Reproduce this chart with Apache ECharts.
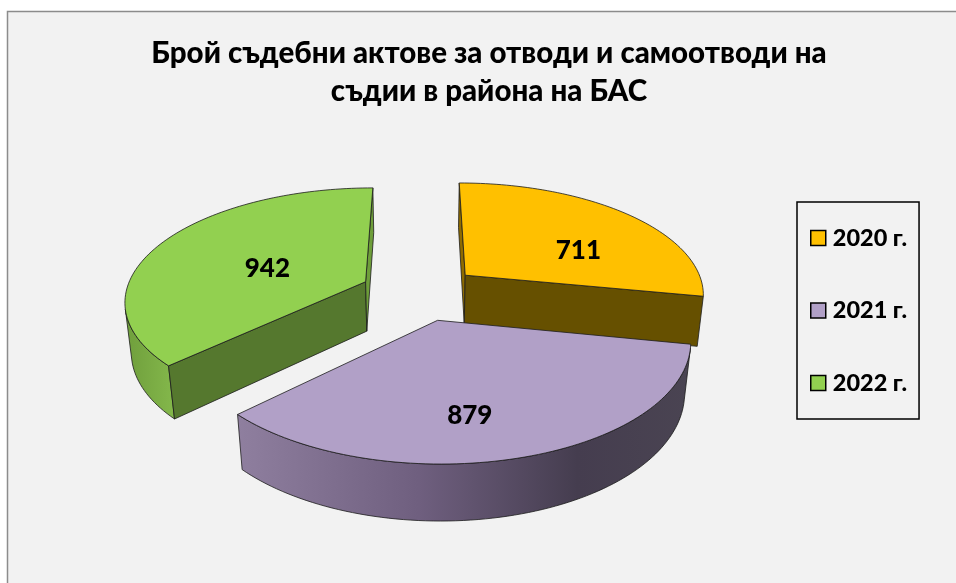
<!DOCTYPE html>
<html>
<head>
<meta charset="utf-8">
<style>
  html, body { margin: 0; padding: 0; background: #fff; }
  #chart { width: 956px; height: 583px; }
</style>
<script src="https://cdn.jsdelivr.net/npm/echarts@6/dist/echarts.min.js"></script>
</head>
<body>
<div id="chart"></div>
<script>
const titleLines = ['Брой съдебни актове за отводи и самоотводи на', 'съдии в района на БАС']
const years = ['2020 г.', '2021 г.', '2022 г.']
const values = [711, 879, 942]

const fontName = 'Lato, "Noto Sans", sans-serif'
const topColors = ['#FFC000', '#B1A0C7', '#92D050']
const startCutColors = ['#8F6C00', '#6A6077', '#55782E']
const endCutColors = ['#665000', '#6A6077', '#6E9E3A']
const wallStops = [
  [[0, '#A88000'], [1, '#8F6C00']],
  [[0, '#8F7F9F'], [0.4, '#6F5F7F'], [0.75, '#453D4F'], [1, '#4A4452']],
  [[0, '#6F9E3C'], [1, '#84B84B']]
]
// where each number sits on its slice: plan angle in degrees, fraction of the radius
const labelSpots = [[65, 0.56], [171.4, 0.71], [286, 0.445]]

// 3d view of the pie
const view = { cx: 420, cy: 292.5, rx: 240, ry: 111.6, depth: 51, persp: 0.156, perspZ: 0.022, explode: 0.25, rotation: 0 }

const total = values.reduce((a, b) => a + b, 0)

const project = (x, y, z) => {
  const w = 1 + view.persp * y + view.perspZ * z
  return [view.cx + view.rx * x / w, view.cy + (-view.ry * y + view.depth * z) / w]
}

const isFacing = (pts) => {
  let sum = 0
  pts.forEach((p, i) => {
    const q = pts[(i + 1) % pts.length]
    sum += p[0] * q[1] - q[0] * p[1]
  })
  return sum > 0
}

const outline = { stroke: '#1c1c1c', lineWidth: 0.8, lineJoin: 'round' }
const poly = (points, fill) => ({ type: 'polygon', shape: { points }, style: { fill, ...outline } })

const renderSlice = (index) => {
  let before = 0
  for (let i = 0; i < index; i++) before += values[i]
  const rad = (d) => d * Math.PI / 180
  const a0 = view.rotation + before / total * 360
  const a1 = a0 + values[index] / total * 360
  const mid = (a0 + a1) / 2
  const ox = Math.sin(rad(mid)) * view.explode
  const oy = Math.cos(rad(mid)) * view.explode
  const rim = (a, z) => project(ox + Math.sin(rad(a)), oy + Math.cos(rad(a)), z)

  const angles = []
  const steps = Math.ceil((a1 - a0) / 1.5)
  for (let i = 0; i <= steps; i++) angles.push(a0 + (a1 - a0) * i / steps)

  const children = []

  // outer wall, only the part looking at the viewer
  const shown = angles.filter((a, i) => {
    if (i === angles.length - 1) return false
    const b = angles[i + 1]
    return isFacing([rim(b, 0), rim(a, 0), rim(a, 1), rim(b, 1)])
  })
  if (shown.length) {
    const from = shown[0]
    const to = angles[angles.indexOf(shown[shown.length - 1]) + 1]
    const arc = angles.filter((a) => a >= from && a <= to)
    const pts = arc.map((a) => rim(a, 0)).concat(arc.slice().reverse().map((a) => rim(a, 1)))
    children.push(poly(pts, new echarts.graphic.LinearGradient(0, 0, 1, 0, wallStops[index].map((s) => ({ offset: s[0], color: s[1] })))))
  }

  // the two cut faces
  const apex = project(ox, oy, 0)
  const apexLow = project(ox, oy, 1)
  const startFace = [rim(a0, 0), apex, apexLow, rim(a0, 1)]
  const endFace = [apex, rim(a1, 0), rim(a1, 1), apexLow]
  if (isFacing(startFace)) children.push(poly(startFace, startCutColors[index]))
  if (isFacing(endFace)) children.push(poly(endFace, endCutColors[index]))

  // top
  children.push(poly([apex].concat(angles.map((a) => rim(a, 0))), topColors[index]))

  // value on the slice
  const spot = labelSpots[index]
  const at = project(ox + Math.sin(rad(spot[0])) * spot[1], oy + Math.cos(rad(spot[0])) * spot[1], 0)
  children.push({
    type: 'text',
    x: at[0],
    y: at[1],
    style: { text: String(values[index]), fill: '#000', font: '900 26px ' + fontName, textAlign: 'center', textVerticalAlign: 'middle' }
  })

  return { type: 'group', children }
}

// drawn back to front, the purple slice sits over the orange one
const drawOrder = [0, 2, 1]

const chart = echarts.init(document.getElementById('chart'))
chart.setOption({
  animation: false,
  backgroundColor: '#fff',
  title: {
    text: titleLines.join('\n'),
    left: 484,
    top: 29,
    textAlign: 'center',
    textStyle: { fontFamily: fontName, fontSize: 29.5, fontWeight: 900, color: '#000', lineHeight: 38 }
  },
  graphic: [{
    type: 'rect',
    z: -10,
    shape: { x: 7.5, y: 11.5, width: 960, height: 590 },
    style: { fill: '#F2F2F2', stroke: '#8C8C8C', lineWidth: 1.5 }
  }],
  legend: {
    orient: 'vertical',
    left: 797,
    top: 202,
    data: years.map((name) => ({ name, icon: 'rect' })),
    padding: [24, 12, 24, 13],
    itemGap: 48.5,
    itemWidth: 15,
    itemHeight: 15,
    borderColor: '#000',
    borderWidth: 1.5,
    selectedMode: false,
    itemStyle: { borderColor: '#000', borderWidth: 1.5 },
    textStyle: { fontFamily: fontName, fontSize: 23.5, fontWeight: 900, color: '#000', padding: [0, 0, 0, 2] }
  },
  series: drawOrder.map((i) => ({
    type: 'custom',
    name: years[i],
    coordinateSystem: 'none',
    itemStyle: { color: topColors[i] },
    silent: true,
    data: [values[i]],
    renderItem: () => renderSlice(i)
  }))
})
</script>
</body>
</html>
